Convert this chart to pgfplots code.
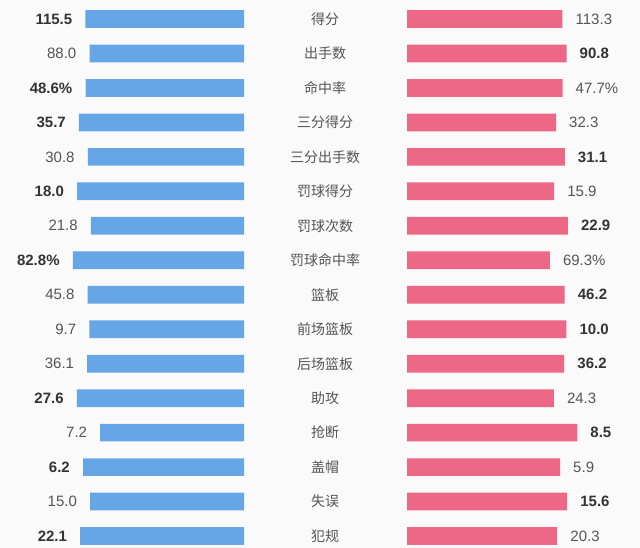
\documentclass[border=0pt]{standalone}
\usepackage{pgfplots}
\usepackage{pgfplotstable}
\usepackage{fontspec}
\pgfplotsset{compat=1.18}
\setmainfont{Liberation Sans}
\newfontfamily\cjk{Noto Sans CJK SC}
\definecolor{barblue}{HTML}{66A6E6}
\definecolor{barpink}{HTML}{ED6887}
\definecolor{bg}{HTML}{FAFAFA}
\definecolor{txtb}{HTML}{333333}
\definecolor{txtn}{HTML}{555555}
\newcommand\hi[1]{\textcolor{txtb}{\bfseries #1}}
\newcommand\lo[1]{\textcolor{txtn}{#1}}

\pgfplotstableread[col sep=semicolon]{
row;a;b;la;lb
0;115.5;113.3;\hi{115.5};\lo{113.3}
1;88.0;90.8;\lo{88.0};\hi{90.8}
2;48.6;47.7;\hi{48.6\%};\lo{47.7\%}
3;35.7;32.3;\hi{35.7};\lo{32.3}
4;30.8;31.1;\lo{30.8};\hi{31.1}
5;18.0;15.9;\hi{18.0};\lo{15.9}
6;21.8;22.9;\lo{21.8};\hi{22.9}
7;82.8;69.3;\hi{82.8\%};\lo{69.3\%}
8;45.8;46.2;\lo{45.8};\hi{46.2}
9;9.7;10.0;\lo{9.7};\hi{10.0}
10;36.1;36.2;\lo{36.1};\hi{36.2}
11;27.6;24.3;\hi{27.6};\lo{24.3}
12;7.2;8.5;\lo{7.2};\hi{8.5}
13;6.2;5.9;\hi{6.2};\lo{5.9}
14;15.0;15.6;\lo{15.0};\hi{15.6}
15;22.1;20.3;\hi{22.1};\lo{20.3}
}\data

\pgfplotsset{
  common/.style={
    width=#1, height=548pt, scale only axis,
    xbar, bar width=17.7pt,
    y dir=reverse,
    xmin=0,
    ymin=-0.5512, ymax=15.347,
    clip=false,
    axis line style={draw=none},
    major tick length=0pt,
    xtick=\empty,
    nodes near coords, point meta=explicit symbolic,
  }
}

\begin{document}
\begin{tikzpicture}
\useasboundingbox (0,0) rectangle (640pt,548pt);
\fill[bg] (0,0) rectangle (640pt,548pt);
\begin{axis}[
  common=244pt,
  at={(0pt,0pt)}, anchor=south west,
  x dir=reverse,
  xmax=76.25,
  ytick=\empty,
  every node near coord/.append style={anchor=east, xshift=-13pt, inner sep=0pt, font=\fontsize{15}{15}\selectfont},
]
\addplot[fill=barblue, draw=none] table[x expr={\thisrow{a}/(\thisrow{a}+\thisrow{b})*100-0.9375}, y=row, meta=la] {\data};
\end{axis}
\begin{axis}[
  common=233pt,
  at={(407pt,0pt)}, anchor=south west,
  xmax=72.8125,
  ytick={0,...,15},
  yticklabels={得分,出手数,命中率,三分得分,三分出手数,罚球得分,罚球次数,罚球命中率,篮板,前场篮板,后场篮板,助攻,抢断,盖帽,失误,犯规},
  yticklabel style={anchor=center, xshift=-82pt, font=\cjk\fontsize{14}{14}\selectfont, text=txtn},
  every node near coord/.append style={anchor=west, xshift=13pt, inner sep=0pt, font=\fontsize{15}{15}\selectfont},
]
\addplot[fill=barpink, draw=none] table[x expr={\thisrow{b}/(\thisrow{a}+\thisrow{b})*100-0.9375}, y=row, meta=lb] {\data};
\end{axis}
\end{tikzpicture}
\end{document}
